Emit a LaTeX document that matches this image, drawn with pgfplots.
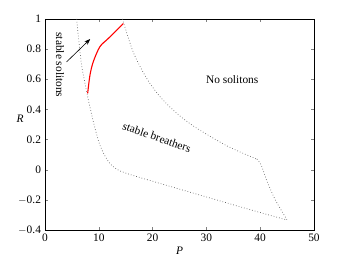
\documentclass[border=0pt]{standalone}
\usepackage{fontspec}
\setmainfont{Liberation Serif}
\usepackage{pgfplots}
\pgfplotsset{compat=1.18}
\usetikzlibrary{arrows.meta}
\begin{document}
\fontsize{11.4}{13.5}\selectfont
\begin{tikzpicture}
\begin{axis}[
  scale only axis, width=269pt, height=211pt,
  xmin=0, xmax=50, ymin=-0.4, ymax=1,
  xtick={0,10,...,50}, ytick={-0.4,-0.2,0,0.2,0.4,0.6,0.8,1},
  yticklabels={$-$0.4,$-$0.2,0,0.2,0.4,0.6,0.8,1},
  tick align=inside, tick pos=both,
  major tick length=3pt,
  /pgf/number format/assume math mode=true,
  ticklabel style={font=\fontsize{11.4}{13.5}\selectfont},
  xlabel={\textit{P}}, ylabel={\textit{R}},
  xlabel style={yshift=2pt},
  ylabel style={rotate=-90, at={(axis description cs:-0.093,0.525)}, anchor=center},
  axis line style={line width=0.6pt},
  clip=true,
  bnd/.style={dash pattern=on 0.7pt off 2.1pt, line width=0.7pt, black!60},
]
% left boundary
\addplot[bnd, smooth, tension=0.5] coordinates {
 (5.9,1.0) (6.3,0.85) (6.8,0.695) (7.4,0.58) (8.05,0.465) (8.98,0.32) (10.2,0.164) (11.8,0.053) (13.6,-0.002) (16.1,-0.035) (19,-0.066)};
\addplot[bnd] coordinates {
 (19,-0.066) (23.2,-0.11) (38.1,-0.265) (45,-0.334)};
% right boundary
\addplot[bnd, smooth, tension=0.5] coordinates {
 (14.4,1.0) (16.4,0.78) (18.9,0.606) (21.4,0.484) (24.5,0.374) (28,0.28) (34,0.155) (39.4,0.07)};
\addplot[bnd, smooth, tension=0.3] coordinates {
 (39.4,0.07) (40.2,0.03) (41.3,-0.08) (42.8,-0.2) (45,-0.334)};
% stable solitons
\addplot[red, line width=1.1pt, smooth, tension=0.5] coordinates {
 (7.93,0.507) (8.36,0.628) (8.98,0.717) (10.2,0.816) (11.8,0.872) (14.55,0.97)};
\draw[-{Stealth[length=6pt,width=4.5pt]}, line width=0.6pt] (axis cs:4.0,0.715) -- (axis cs:8.4,0.867);
\node[rotate=-90] at (axis cs:2.8,0.695) {stable solitons};
\node at (axis cs:34.8,0.595) {No solitons};
\node[rotate=-19] at (axis cs:20.8,0.215) {stable breathers};
\end{axis}
\useasboundingbox (-45pt,-30pt) rectangle (301pt,230pt);
\end{tikzpicture}
\end{document}
